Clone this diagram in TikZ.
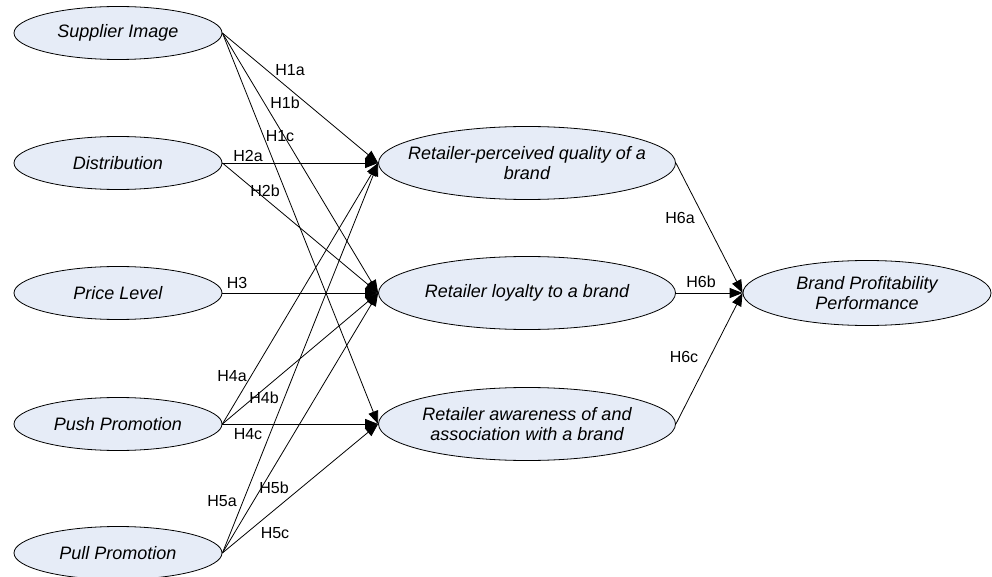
\documentclass[tikz,border=0pt]{standalone}
\usepackage{fontspec}
\setmainfont{Liberation Sans}
\usepackage{tikz}
\usetikzlibrary{arrows.meta, positioning, shapes.geometric}
\definecolor{ovalfill}{RGB}{230,236,247}

\begin{document}
\begin{tikzpicture}[x=0.75pt, y=-0.75pt,
    construct/.style={ellipse, draw, fill=ovalfill, line width=0.6pt, inner sep=0pt,
        align=center, font=\fontsize{13.5}{15}\selectfont\itshape},
    leftbox/.style={construct, minimum width=156pt, minimum height=39.75pt},
    midbox/.style={construct, inner xsep=-12pt, minimum width=222.75pt, minimum height=54.75pt},
    endbox/.style={construct, minimum width=186pt, minimum height=48.75pt},
    hyp/.style={line width=0.6pt, -{Triangle[length=9.75pt, width=7.5pt]}},
    hlabel/.style={inner sep=0pt, font=\fontsize{12}{14}\selectfont}]
    \useasboundingbox (0,0) rectangle (992,577);
    % antecedents
    \node[leftbox] (supp) at (118,33) {Supplier Image};
    \node[leftbox] (dist) at (118,163) {Distribution};
    \node[leftbox] (price) at (118,293) {Price Level};
    \node[leftbox] (push) at (118,424) {Push Promotion};
    \node[leftbox] (pull) at (118,553) {Pull Promotion};
    % retailer side
    \node[midbox] (qual) at (527,163) {Retailer-perceived quality of a\\brand};
    \node[midbox] (loyal) at (527,293) {Retailer loyalty to a brand};
    \node[midbox] (aware) at (527,424) {Retailer awareness of and\\association with a brand};
    \node[endbox] (perf) at (867,293) {Brand Profitability\\Performance};
    % paths
    \draw[hyp] (supp.east) -- (qual.west);
    \draw[hyp] (supp.east) -- (loyal.west);
    \draw[hyp] (supp.east) -- (aware.west);
    \draw[hyp] (dist.east) -- (qual.west);
    \draw[hyp] (dist.east) -- (loyal.west);
    \draw[hyp] (price.east) -- (loyal.west);
    \draw[hyp] (push.east) -- (qual.west);
    \draw[hyp] (push.east) -- (loyal.west);
    \draw[hyp] (push.east) -- (aware.west);
    \draw[hyp] (pull.east) -- (qual.west);
    \draw[hyp] (pull.east) -- (loyal.west);
    \draw[hyp] (pull.east) -- (aware.west);
    \draw[hyp] (qual.east) -- (perf.west);
    \draw[hyp] (loyal.east) -- (perf.west);
    \draw[hyp] (aware.east) -- (perf.west);
    % labels
    \node[hlabel] (h1a) at (290,70) {H1a};
    \node[hlabel] (h1b) at (285,103) {H1b};
    \node[hlabel] (h1c) at (280,136) {H1c};
    \node[hlabel] (h2a) at (248,156) {H2a};
    \node[hlabel] (h2b) at (265,191) {H2b};
    \node[hlabel] (h3) at (237,283) {H3};
    \node[hlabel] (h4a) at (232,376) {H4a};
    \node[hlabel] (h4b) at (264,398) {H4b};
    \node[hlabel] (h4c) at (248,434) {H4c};
    \node[hlabel] (h5a) at (222,501) {H5a};
    \node[hlabel] (h5b) at (274,488) {H5b};
    \node[hlabel] (h5c) at (275,533) {H5c};
    \node[hlabel] (h6a) at (680,218) {H6a};
    \node[hlabel] (h6b) at (701,282) {H6b};
    \node[hlabel] (h6c) at (684,357) {H6c};
\end{tikzpicture}
\end{document}
